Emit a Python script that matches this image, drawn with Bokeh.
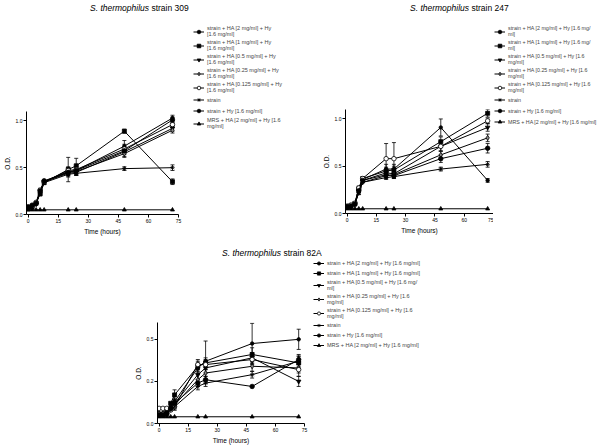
from bokeh.plotting import figure
from bokeh.layouts import column, row
from bokeh.models import (Legend, LegendItem, ColumnDataSource, Whisker, Div,
                          TeeHead, FixedTicker, Range1d)
from bokeh.embed import file_html
from bokeh.resources import INLINE

# ---------------- data ----------------
TIMES = [0, 2, 4, 6, 8, 20, 24, 48, 72]
X_TICKS = [0, 15, 30, 45, 60, 75]

TITLE_ITALIC = "S. thermophilus"
TITLES = ["strain 309", "strain 247", "strain 82A"]

LABELS_309 = [
    "strain + HA [2 mg/ml] + Hy\n[1.6 mg/ml]",
    "strain + HA [1 mg/ml] + Hy\n[1.6 mg/ml]",
    "strain + HA [0.5 mg/ml] + Hy\n[1.6 mg/ml]",
    "strain + HA [0.25 mg/ml] + Hy\n[1.6 mg/ml]",
    "strain + HA [0.125 mg/ml] + Hy\n[1.6 mg/ml]",
    "strain",
    "strain + Hy [1.6 mg/ml]",
    "MRS + HA [2 mg/ml] + Hy [1.6\nmg/ml]",
]
LABELS_247 = [
    "strain + HA [2 mg/ml] + Hy [1.6 mg/\nml]",
    "strain + HA [1 mg/ml] + Hy [1.6 mg/\nml]",
    "strain + HA [0.5 mg/ml] + Hy [1.6\nmg/ml]",
    "strain + HA [0.25 mg/ml] + Hy [1.6\nmg/ml]",
    "strain + HA [0.125 mg/ml] + Hy [1.6\nmg/ml]",
    "strain",
    "strain + Hy [1.6 mg/ml]",
    "MRS + HA [2 mg/ml] + Hy [1.6 mg/ml]",
]
LABELS_82A = [
    "strain + HA [2 mg/ml] + Hy [1.6 mg/ml]",
    "strain + HA [1 mg/ml] + Hy [1.6 mg/ml]",
    "strain + HA [0.5 mg/ml] + Hy [1.6 mg/\nml]",
    "strain + HA [0.25 mg/ml] + Hy [1.6\nmg/ml]",
    "strain + HA [0.125 mg/ml] + Hy [1.6\nmg/ml]",
    "strain",
    "strain + Hy [1.6 mg/ml]",
    "MRS + HA [2 mg/ml] + Hy [1.6 mg/ml]",
]

OD_309 = [
    [0.07, 0.09, 0.12, 0.24, 0.35, 0.46, 0.47, 0.73, 1.03],
    [0.06, 0.08, 0.12, 0.22, 0.34, 0.48, 0.52, 0.89, 0.35],
    [0.07, 0.09, 0.11, 0.25, 0.35, 0.44, 0.45, 0.67, 0.92],
    [0.07, 0.08, 0.12, 0.24, 0.35, 0.45, 0.46, 0.65, 0.90],
    [0.08, 0.09, 0.13, 0.26, 0.35, 0.47, 0.48, 0.70, 0.96],
    [0.07, 0.08, 0.12, 0.23, 0.34, 0.43, 0.44, 0.49, 0.50],
    [0.08, 0.10, 0.12, 0.25, 0.36, 0.45, 0.47, 0.68, 1.01],
    [0.05, 0.05, 0.05, 0.05, 0.05, 0.05, 0.05, 0.05, 0.05],
]
SD_309 = [
    [0.01, 0.01, 0.01, 0.02, 0.01, 0.04, 0.05, 0.06, 0.03],
    [0.01, 0.01, 0.01, 0.02, 0.01, 0.13, 0.08, 0.02, 0.03],
    [0.01, 0.01, 0.01, 0.02, 0.01, 0.03, 0.03, 0.05, 0.03],
    [0.01, 0.01, 0.01, 0.02, 0.01, 0.03, 0.04, 0.04, 0.03],
    [0.01, 0.01, 0.01, 0.02, 0.01, 0.04, 0.03, 0.05, 0.02],
    [0.01, 0.01, 0.01, 0.02, 0.01, 0.03, 0.02, 0.02, 0.03],
    [0.01, 0.01, 0.01, 0.02, 0.01, 0.03, 0.04, 0.04, 0.03],
    [0.00, 0.00, 0.00, 0.00, 0.00, 0.00, 0.00, 0.00, 0.00],
]

OD_247 = [
    [0.07, 0.08, 0.10, 0.25, 0.36, 0.47, 0.47, 0.91, 0.35],
    [0.07, 0.08, 0.10, 0.26, 0.37, 0.45, 0.46, 0.76, 1.06],
    [0.07, 0.09, 0.11, 0.24, 0.35, 0.43, 0.42, 0.71, 0.91],
    [0.08, 0.08, 0.10, 0.22, 0.33, 0.40, 0.41, 0.62, 0.80],
    [0.07, 0.09, 0.11, 0.27, 0.37, 0.58, 0.58, 0.71, 0.98],
    [0.06, 0.07, 0.10, 0.22, 0.33, 0.38, 0.39, 0.47, 0.52],
    [0.07, 0.08, 0.10, 0.24, 0.35, 0.41, 0.40, 0.58, 0.69],
    [0.05, 0.05, 0.05, 0.05, 0.05, 0.05, 0.05, 0.05, 0.05],
]
SD_247 = [
    [0.01, 0.01, 0.01, 0.02, 0.01, 0.05, 0.05, 0.09, 0.02],
    [0.01, 0.01, 0.01, 0.02, 0.01, 0.04, 0.04, 0.05, 0.04],
    [0.01, 0.01, 0.01, 0.02, 0.01, 0.03, 0.03, 0.05, 0.04],
    [0.01, 0.01, 0.01, 0.02, 0.01, 0.03, 0.03, 0.04, 0.04],
    [0.01, 0.01, 0.01, 0.02, 0.01, 0.16, 0.17, 0.05, 0.03],
    [0.01, 0.01, 0.01, 0.02, 0.01, 0.02, 0.02, 0.02, 0.03],
    [0.01, 0.01, 0.01, 0.02, 0.01, 0.03, 0.03, 0.04, 0.05],
    [0.00, 0.00, 0.00, 0.00, 0.00, 0.00, 0.00, 0.00, 0.00],
]

OD_82A = [
    [0.06, 0.06, 0.07, 0.10, 0.13, 0.33, 0.37, 0.475, 0.50],
    [0.05, 0.05, 0.06, 0.12, 0.17, 0.34, 0.36, 0.41, 0.36],
    [0.06, 0.06, 0.07, 0.09, 0.12, 0.29, 0.33, 0.39, 0.25],
    [0.06, 0.06, 0.06, 0.09, 0.11, 0.26, 0.30, 0.34, 0.33],
    [0.09, 0.09, 0.09, 0.08, 0.10, 0.35, 0.35, 0.38, 0.32],
    [0.05, 0.05, 0.06, 0.08, 0.10, 0.22, 0.24, 0.29, 0.37],
    [0.05, 0.05, 0.06, 0.09, 0.12, 0.24, 0.26, 0.22, 0.38],
    [0.04, 0.04, 0.04, 0.04, 0.04, 0.04, 0.04, 0.04, 0.04],
]
SD_82A = [
    [0.01, 0.01, 0.01, 0.01, 0.02, 0.03, 0.12, 0.12, 0.06],
    [0.01, 0.01, 0.01, 0.01, 0.03, 0.03, 0.03, 0.04, 0.04],
    [0.01, 0.01, 0.01, 0.01, 0.02, 0.03, 0.03, 0.03, 0.03],
    [0.01, 0.01, 0.01, 0.01, 0.02, 0.03, 0.02, 0.03, 0.03],
    [0.01, 0.01, 0.01, 0.01, 0.02, 0.03, 0.03, 0.03, 0.04],
    [0.01, 0.01, 0.01, 0.01, 0.02, 0.02, 0.02, 0.02, 0.03],
    [0.01, 0.01, 0.01, 0.01, 0.02, 0.02, 0.02, 0.01, 0.03],
    [0.00, 0.00, 0.00, 0.00, 0.00, 0.00, 0.00, 0.00, 0.00],
]

Y_TICKS_TOP = [0, 0.5, 1.0]
Y_LABELS_TOP = ["0.0", "0.5", "1.0"]
Y_TICKS_82A = [0, 0.25, 0.5]
Y_LABELS_82A = ["0.0", "0.2", "0.5"]

# ---------------- styles ----------------
FONT = "Liberation Sans"
MARKERS = ["circle", "square", "inverted_triangle", "diamond", "circle",
           "asterisk", "circle", "triangle"]
FILLS = ["black", "black", "black", "#888888", "white", "black", "black", "black"]
MSIZES = [3.5, 4, 4.5, 5, 4.5, 4.5, 4.5, 4]


def title_div(width, subtitle, pad_left, line_h):
    return Div(text="<i>%s</i> %s" % (TITLE_ITALIC, subtitle),
               width=width, height=18, margin=(0, 0, 0, 0),
               styles={"font-family": FONT, "font-size": "8.5px",
                       "line-height": "%dpx" % line_h, "color": "black",
                       "padding-left": "%dpx" % pad_left, "white-space": "nowrap"})


def legend_fig(width, height, times, od, labels, font_size, glyph_h, line_h,
               b_top, b_left):
    f = figure(width=width, height=height, x_range=Range1d(0, 75),
               y_range=Range1d(0, 1.2), x_axis_type=None, y_axis_type=None,
               output_backend="svg", toolbar_location=None,
               min_border_left=b_left, min_border_right=0,
               min_border_top=b_top, min_border_bottom=0)
    f.outline_line_color = None
    f.grid.visible = False
    f.border_fill_color = "white"
    items = []
    for i, (vals, lab) in enumerate(zip(od, labels)):
        src = ColumnDataSource(dict(t=times, v=vals))
        lr = f.line("t", "v", source=src, line_color="black", line_width=1,
                    visible=False)
        sr = f.scatter("t", "v", source=src, marker=MARKERS[i],
                       fill_color=FILLS[i], line_color="black", line_width=0.8,
                       visible=False)
        items.append(LegendItem(label=lab, renderers=[lr, sr]))
    leg = Legend(items=items, location="top_left", orientation="vertical",
                 label_text_font=FONT, label_text_font_size=font_size,
                 label_text_line_height=line_h,
                 glyph_width=11, glyph_height=glyph_h, label_height=5,
                 spacing=2, padding=0, margin=1, label_standoff=3,
                 background_fill_alpha=0, border_line_alpha=0)
    f.add_layout(leg)
    return f


def plot_fig(times, od, sd, y_max, yticks, ylabels,
             width, height, b_left, b_right, b_top, b_bottom):
    p = figure(width=width, height=height,
               x_range=Range1d(-0.8, 75), y_range=Range1d(0, y_max),
               output_backend="svg", toolbar_location=None,
               min_border_left=b_left, min_border_right=b_right,
               min_border_top=b_top, min_border_bottom=b_bottom)
    p.outline_line_color = None
    p.grid.visible = False
    p.background_fill_color = "white"
    p.border_fill_color = "white"

    p.xaxis.ticker = FixedTicker(ticks=X_TICKS)
    p.yaxis.ticker = FixedTicker(ticks=yticks)
    p.yaxis.major_label_overrides = {float(t): l for t, l in zip(yticks, ylabels)}
    p.xaxis.axis_label = "Time (hours)"
    p.yaxis.axis_label = "O.D."
    for ax in (p.xaxis[0], p.yaxis[0]):
        ax.major_label_text_font = FONT
        ax.major_label_text_font_size = "5px"
        ax.major_label_text_color = "black"
        ax.axis_label_text_font = FONT
        ax.axis_label_text_font_size = "6.5px"
        ax.axis_label_text_font_style = "normal"
        ax.axis_label_text_color = "black"
        ax.minor_tick_line_color = None
        ax.major_tick_in = 0
        ax.major_tick_out = 3
        ax.major_label_standoff = 1
        ax.axis_label_standoff = 2
        ax.axis_line_color = "black"
        ax.major_tick_line_color = "black"

    for i, (vals, errs) in enumerate(zip(od, sd)):
        src = ColumnDataSource(dict(t=times, v=vals))
        p.line("t", "v", source=src, line_color="black", line_width=1)
        et = [t for t, e in zip(times, errs) if e >= 0.015]
        eu = [v + e for v, e in zip(vals, errs) if e >= 0.015]
        el = [v - e for v, e in zip(vals, errs) if e >= 0.015]
        if et:
            wsrc = ColumnDataSource(dict(t=et, u=eu, l=el))
            p.add_layout(Whisker(source=wsrc, base="t", upper="u", lower="l",
                                 line_color="black", line_width=0.8,
                                 upper_head=TeeHead(size=4, line_color="black", line_width=0.8),
                                 lower_head=TeeHead(size=4, line_color="black", line_width=0.8)))
        p.scatter("t", "v", source=src, marker=MARKERS[i], size=MSIZES[i],
                  fill_color=FILLS[i], line_color="black", line_width=0.8)
    return p


# ---- top-left panel: strain 309 ----
d1 = title_div(300, TITLES[0], 90, 17)
p1 = plot_fig(TIMES, OD_309, SD_309, 1.1, Y_TICKS_TOP, Y_LABELS_TOP,
              192, 222, 26, 14, 93, 26)
l1 = legend_fig(108, 222, TIMES, OD_309, LABELS_309, "5.5px", 9, 1.1, 6, 0)
panel1 = column(d1, row(column(p1), column(l1)))

# ---- top-right panel: strain 247 ----
d2 = title_div(300, TITLES[1], 110, 17)
p2 = plot_fig(TIMES, OD_247, SD_247, 1.1, Y_TICKS_TOP, Y_LABELS_TOP,
              193, 222, 45, 0, 91, 27)
l2 = legend_fig(107, 222, TIMES, OD_247, LABELS_247, "5.3px", 9, 1.1, 6, 0)
panel2 = column(d2, row(column(p2), column(l2)))

# ---- bottom panel: strain 82A ----
d3 = title_div(600, TITLES[2], 222, 26)
p3 = plot_fig(TIMES, OD_82A, SD_82A, 0.6, Y_TICKS_82A, Y_LABELS_82A,
              312, 188, 157, 8, 64, 21)
l3 = legend_fig(288, 188, TIMES, OD_82A, LABELS_82A, "5.5px", 8, 1.0, 0, 0)
panel3 = column(d3, row(column(p3), column(l3)))

layout = column(row(panel1, panel2), panel3)
open("out.html", "w").write(file_html(layout, INLINE))
